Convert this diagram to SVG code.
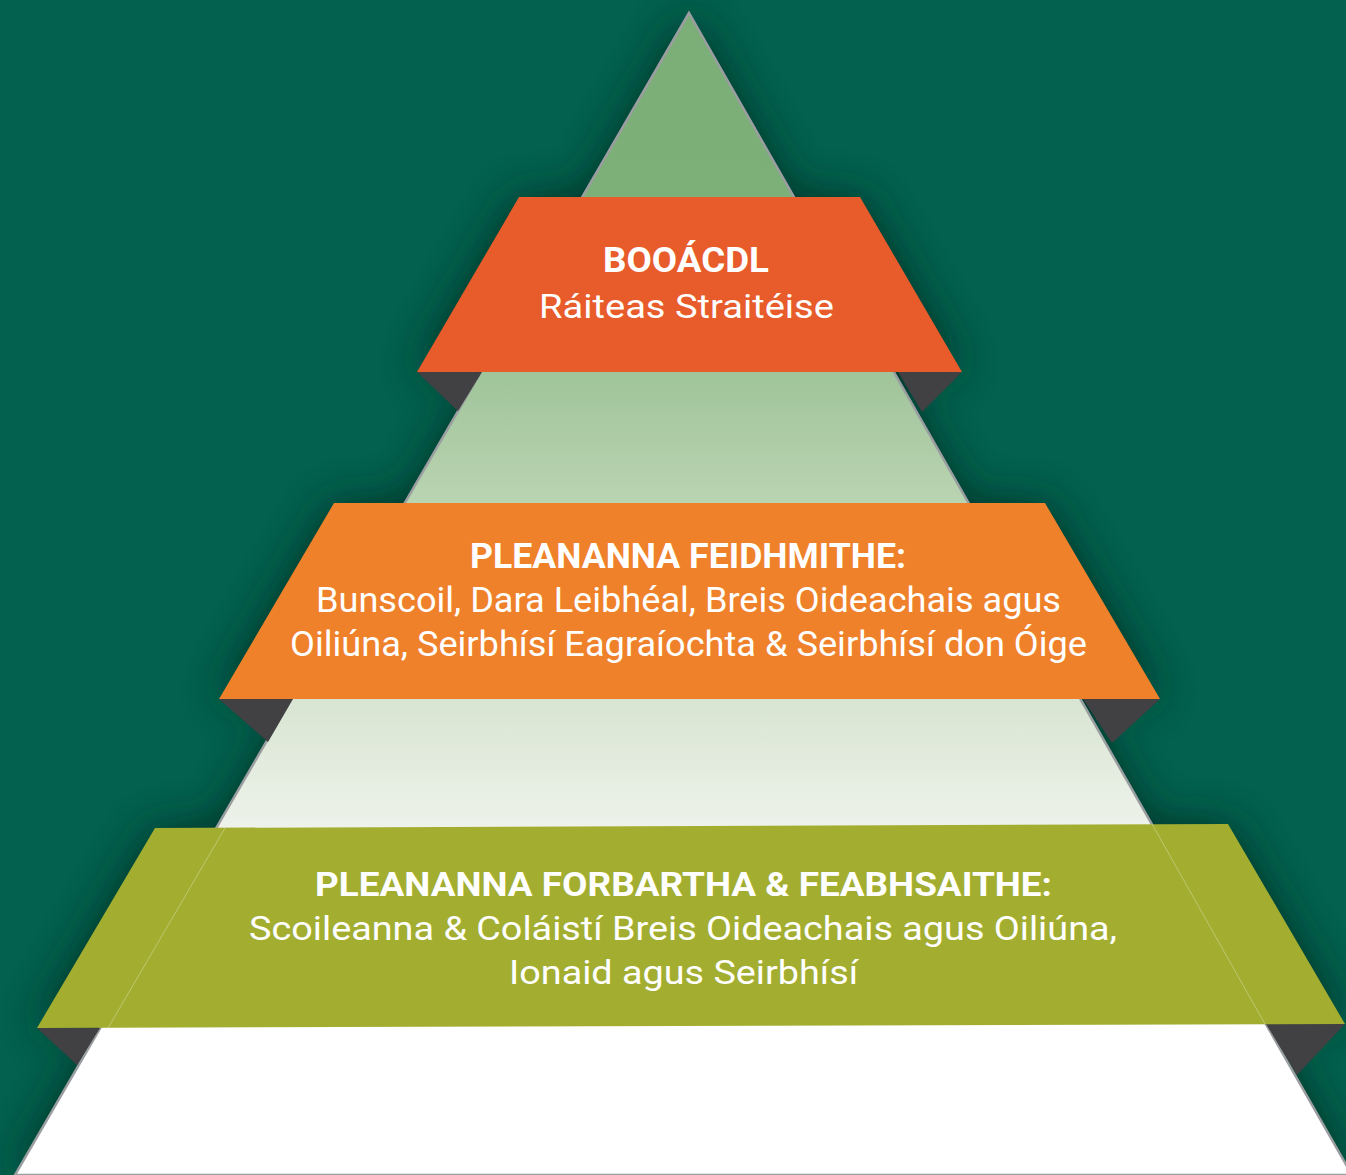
<svg xmlns="http://www.w3.org/2000/svg" width="1346" height="1175" viewBox="0 0 1346 1175">
  <defs>
    <linearGradient id="pyrGrad" gradientUnits="userSpaceOnUse" x1="0" y1="13" x2="0" y2="1175">
      <stop offset="0" stop-color="#7CAE77"/>
      <stop offset="0.158" stop-color="#7DAF78"/>
      <stop offset="0.309" stop-color="#A0C49A"/>
      <stop offset="0.421" stop-color="#B9D4B1"/>
      <stop offset="0.591" stop-color="#D8E5D2"/>
      <stop offset="0.70" stop-color="#EEF2EA"/>
      <stop offset="0.874" stop-color="#FFFFFF"/>
      <stop offset="1" stop-color="#FFFFFF"/>
    </linearGradient>
    <filter id="glow" x="-20%" y="-20%" width="140%" height="140%">
      <feGaussianBlur stdDeviation="22"/>
    </filter>
    <style>
      .fold { fill: #414042; }
      .title { font-family: Roboto, "Liberation Sans", sans-serif; font-weight: 700; fill: #FFFFFF; text-anchor: middle; }
      .body { font-family: Roboto, "Liberation Sans", sans-serif; font-weight: 400; fill: #FFFFFF; text-anchor: middle; }
      .seam { stroke: #FFFFFF; stroke-opacity: 0.3; stroke-width: 1; fill: none; }
    </style>
  </defs>

  <rect x="0" y="0" width="1346" height="1175" fill="#02614F"/>

  <!-- shadow glow -->
  <g id="shadow" filter="url(#glow)" fill="#00261F" opacity="0.8">
    <polygon points="689,13 15,1175 1352,1175"/>
    <polygon points="519,197 860,197 962,372 417,372"/>
    <polygon points="334,503 1045,503 1160,699 219,699"/>
    <polygon points="155,828 1228,824 1345,1024 37,1028"/>
  </g>

  <g id="pyramid">
    <polygon points="689,13 15,1175 1352,1175" fill="url(#pyrGrad)" stroke="#9A9EA0" stroke-width="2.5" stroke-linejoin="miter"/>
  </g>

  <g id="folds">
    <polygon class="fold" points="417,372 482,372 458,411"/>
    <polygon class="fold" points="898,372 962,372 922,412"/>
    <polygon class="fold" points="219,699 293,699 268,742"/>
    <polygon class="fold" points="1083,699 1160,699 1112,743"/>
    <polygon class="fold" points="37,1028 100,1028 77,1065"/>
    <polygon class="fold" points="1266,1024 1345,1024 1297,1075"/>
  </g>

  <g id="tier-top">
    <polygon points="519,197 860,197 962,372 417,372" fill="#E85B2A"/>
    <text class="title" x="686" y="272" font-size="35" textLength="166" lengthAdjust="spacingAndGlyphs">BOOÁCDL</text>
    <text class="body" x="686.5" y="318" font-size="34" textLength="295" lengthAdjust="spacingAndGlyphs">Ráiteas Straitéise</text>
  </g>

  <g id="tier-middle">
    <polygon points="334,503 1045,503 1160,699 219,699" fill="#EF812B"/>
    <text class="title" x="688" y="568" font-size="35" textLength="436" lengthAdjust="spacingAndGlyphs">PLEANANNA FEIDHMITHE:</text>
    <text class="body" x="688.5" y="612" font-size="35" textLength="745" lengthAdjust="spacingAndGlyphs">Bunscoil, Dara Leibhéal, Breis Oideachais agus</text>
    <text class="body" x="688.5" y="656" font-size="35" textLength="797" lengthAdjust="spacingAndGlyphs">Oiliúna, Seirbhísí Eagraíochta &amp; Seirbhísí don Óige</text>
  </g>

  <g id="tier-bottom">
    <polygon points="155,828 1228,824 1345,1024 37,1028" fill="#A3AE31"/>
    <line class="seam" x1="225" y1="828" x2="108" y2="1028"/>
    <line class="seam" x1="1152" y1="824" x2="1265" y2="1024"/>
    <text class="title" x="683.5" y="896" font-size="34" textLength="737" lengthAdjust="spacingAndGlyphs">PLEANANNA FORBARTHA &amp; FEABHSAITHE:</text>
    <text class="body" x="683" y="940" font-size="34" textLength="868" lengthAdjust="spacingAndGlyphs">Scoileanna &amp; Coláistí Breis Oideachais agus Oiliúna,</text>
    <text class="body" x="683.5" y="984" font-size="34" textLength="349" lengthAdjust="spacingAndGlyphs">Ionaid agus Seirbhísí</text>
  </g>
</svg>
